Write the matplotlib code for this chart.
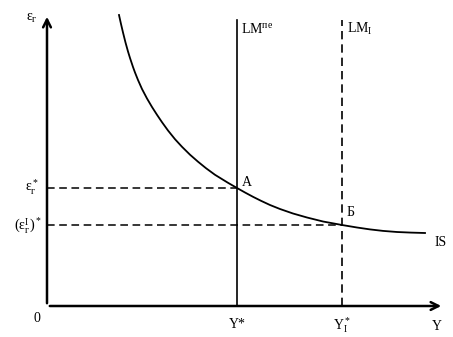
import matplotlib
matplotlib.use("Agg")
import matplotlib.pyplot as plt

plt.rcParams['font.family'] = ['Liberation Serif', 'DejaVu Serif']
plt.rcParams['mathtext.fontset'] = 'custom'
plt.rcParams['mathtext.rm'] = 'Liberation Serif'
plt.rcParams['mathtext.it'] = 'Liberation Serif:italic'
plt.rcParams['mathtext.bf'] = 'Liberation Serif:bold'

# IS curve (output Y, exchange rate eps)
is_y = [72, 74, 76, 78.5, 81, 83, 86, 88, 91, 95, 100, 105, 110, 115, 121, 128, 135,
        143, 151, 159, 168, 181, 190, 198, 206, 214, 223, 233, 246, 260, 276, 295,
        310, 323, 336, 350, 364, 378]
is_eps = [291, 282, 273.5, 263.5, 254.5, 248, 239, 233.5, 226, 217, 207.5, 199, 191.2, 183.8,
          175.5, 166.8, 159.2, 151.3, 144.3, 137.8, 131.2, 123.2, 118, 113.5, 109.2, 105.2,
          101, 97, 92.5, 88.5, 84.5, 81, 78.5, 76.6, 75.1, 74, 73.4, 73]

# equilibrium points
y_star = 190     # Y*
y_star1 = 295    # Y*_1
eps_star = 118   # eps*_r
eps_star1 = 81   # (eps^1_r)*
lm_top = 286

fig = plt.figure(figsize=(4.53, 3.37), dpi=100)
ax = fig.add_axes([0, 0, 1, 1])
ax.set_xlim(-47, 406)
ax.set_ylim(-31, 306)
ax.axis('off')

# axes with arrows
ax.annotate('', xy=(0, 292), xytext=(0, 0),
            arrowprops=dict(arrowstyle='->', lw=1.8, color='black', mutation_scale=14))
ax.annotate('', xy=(397, 0), xytext=(0, 0),
            arrowprops=dict(arrowstyle='->', lw=1.8, color='black', mutation_scale=14))

# IS curve
ax.plot(is_y, is_eps, color='black', lw=1.3, solid_joinstyle='round')

# LM lines
ax.plot([y_star, y_star], [0, lm_top], color='black', lw=1.2)
ax.plot([y_star1, y_star1], [0, lm_top], color='black', lw=1.2, dashes=(5, 3))

# dashed guides
ax.plot([0, y_star], [eps_star, eps_star], color='black', lw=1.1, dashes=(5, 3))
ax.plot([0, y_star1], [eps_star1, eps_star1], color='black', lw=1.1, dashes=(5, 3))

fs = 10
ax.text(-9, 288, r'$\mathrm{ε_г}$', fontsize=fs, ha='right', va='center')
ax.text(-8, 119, r'$\mathrm{ε_г^*}$', fontsize=fs, ha='right', va='center')
ax.text(-5, 80, r'$\left(\mathrm{ε_г^I}\right)^*$', fontsize=fs, ha='right', va='center')
ax.text(-10, -12, '0', fontsize=fs, ha='center', va='center')
ax.text(y_star, -19, 'Y*', fontsize=fs, ha='center', va='center')
ax.text(y_star1, -19, r'$\mathrm{Y_I^*}$', fontsize=fs, ha='center', va='center')
ax.text(390, -20, 'Y', fontsize=fs, ha='center', va='center')
ax.text(y_star + 5, 124, 'A', fontsize=fs, ha='left', va='center')
ax.text(y_star1 + 5, 93, 'Б', fontsize=fs, ha='left', va='center')
ax.text(388, 64, 'IS', fontsize=fs, ha='left', va='center')
ax.text(y_star + 4, 277, r'$\mathrm{LM^{пе}}$', fontsize=fs, ha='left', va='center')
ax.text(y_star1 + 5, 277, r'$\mathrm{LM_I}$', fontsize=fs, ha='left', va='center')

fig.savefig('out.png', dpi=100, facecolor='white')
